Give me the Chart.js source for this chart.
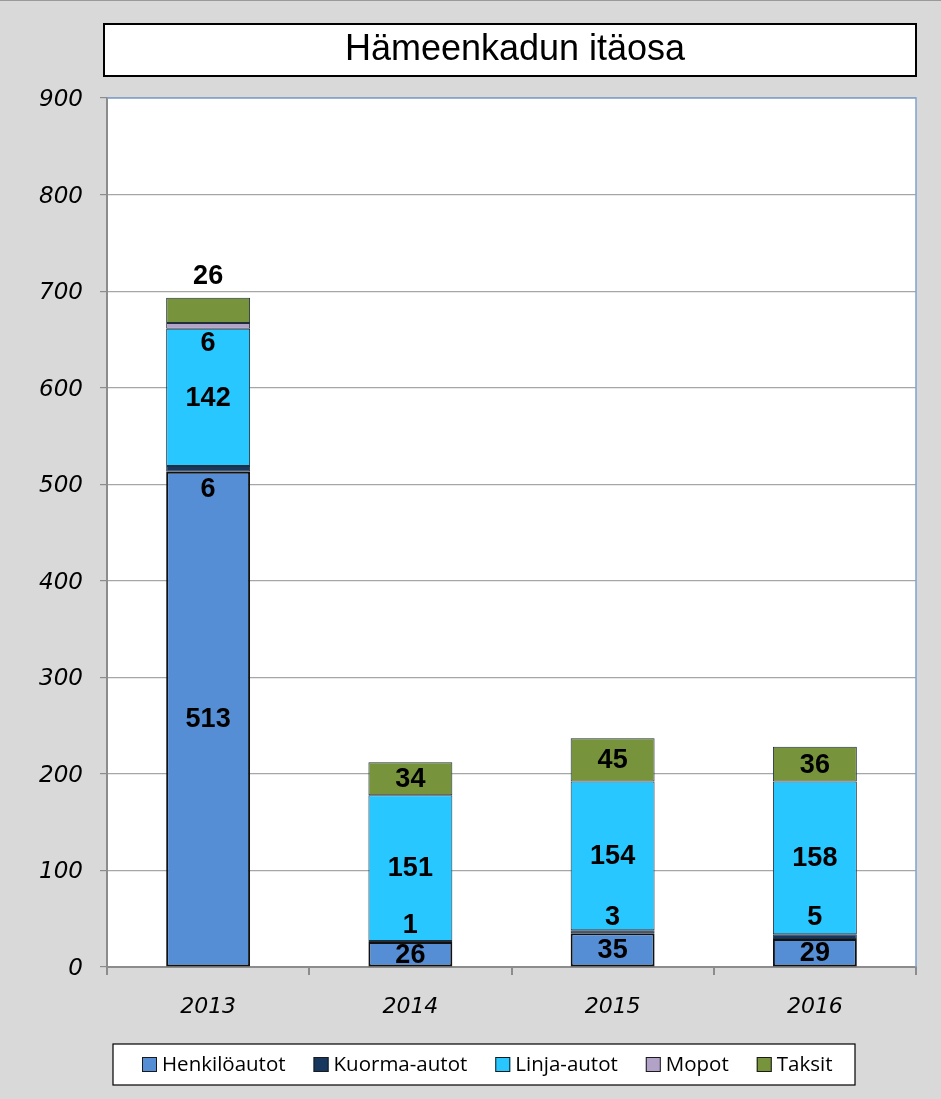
<!DOCTYPE html>
<html>
<head>
<meta charset="utf-8">
<script src="https://cdn.jsdelivr.net/npm/chart.js@4.4.1/dist/chart.umd.min.js"></script>
<style>
  html, body { margin: 0; padding: 0; background: #d9d9d9; }
  canvas { display: block; }
</style>
</head>
<body>
<canvas id="chart" width="941" height="1099"></canvas>
<script>
// data
const years = ['2013', '2014', '2015', '2016'];
const henkiloautot = [513, 26, 35, 29];
const kuormaautot = [6, 1, 3, 5];
const linjaautot = [142, 151, 154, 158];
const mopot = [6, 0, 0, 0];
const taksit = [26, 34, 45, 36];
const seriesNames = ['Henkilöautot', 'Kuorma-autot', 'Linja-autot', 'Mopot', 'Taksit'];
const chartTitle = 'Hämeenkadun itäosa';

const colors = ['#558ed5', '#17375e', '#29c7ff', '#b3a2c7', '#77933c'];
const sansFont = '"Open Sans", "DejaVu Sans", sans-serif';
const tickFont = '"DejaVu Sans", sans-serif';
const labelFont = 'bold 27px "Liberation Sans", Arial, sans-serif';

// label nudges (px) for the thin segments, like the hand-moved labels in the original
const labelShift = {
  1: [20, -17, -15, -20],  // Kuorma-autot
  3: [17, 0, 0, 0],        // Mopot
  4: [-35, 0, 0, 0]        // Taksit
};

const frame = {
  id: 'frame',
  beforeDraw(chart) {
    const ctx = chart.ctx;
    const a = chart.chartArea;
    ctx.save();
    ctx.fillStyle = '#d9d9d9';
    ctx.fillRect(0, 0, chart.width, chart.height);
    ctx.fillStyle = '#9a9a9a';
    ctx.fillRect(0, 0, chart.width, 1);
    // title box
    ctx.fillStyle = '#ffffff';
    ctx.fillRect(104, 24, 812, 52);
    ctx.strokeStyle = '#000';
    ctx.lineWidth = 2;
    ctx.strokeRect(104, 24, 812, 52);
    ctx.fillStyle = '#000';
    ctx.font = '36px "Liberation Sans", Arial, sans-serif';
    ctx.textAlign = 'center';
    ctx.textBaseline = 'middle';
    ctx.fillText(chartTitle, 515, 50);
    // plot area
    ctx.fillStyle = '#ffffff';
    ctx.fillRect(a.left, a.top, a.right - a.left, a.bottom - a.top);
    ctx.restore();
  },
  afterDraw(chart) {
    const ctx = chart.ctx;
    const a = chart.chartArea;
    ctx.save();
    // blue top / right border of the plot
    ctx.strokeStyle = '#7fa2cf';
    ctx.lineWidth = 1.5;
    ctx.beginPath();
    ctx.moveTo(a.left, a.top);
    ctx.lineTo(a.right, a.top);
    ctx.lineTo(a.right, a.bottom);
    ctx.stroke();

    // legend
    const bx = 113, by = 1044, bw = 742, bh = 41;
    ctx.fillStyle = '#fff';
    ctx.fillRect(bx, by, bw, bh);
    ctx.strokeStyle = '#000';
    ctx.lineWidth = 1.2;
    ctx.strokeRect(bx, by, bw, bh);
    ctx.font = '20.5px ' + sansFont;
    ctx.textAlign = 'left';
    ctx.textBaseline = 'middle';
    let x = bx + 29;
    const cy = by + bh / 2;
    chart.data.datasets.forEach(ds => {
      ctx.fillStyle = ds.backgroundColor;
      ctx.fillRect(x, cy - 7.5, 15, 15);
      ctx.strokeStyle = '#1a1a1a';
      ctx.lineWidth = 1;
      ctx.strokeRect(x + 0.5, cy - 7, 14, 14);
      ctx.fillStyle = '#000';
      ctx.fillText(ds.label, x + 20, cy + 1);
      x += 20 + ctx.measureText(ds.label).width + 28;
    });
    ctx.restore();
  }
};

const segmentLabels = {
  id: 'segmentLabels',
  afterDatasetsDraw(chart) {
    const ctx = chart.ctx;
    ctx.save();
    ctx.font = labelFont;
    ctx.fillStyle = '#000';
    ctx.textAlign = 'center';
    ctx.textBaseline = 'middle';
    chart.data.datasets.forEach((ds, di) => {
      const meta = chart.getDatasetMeta(di);
      meta.data.forEach((bar, i) => {
        const v = ds.data[i];
        if (!v) return;
        const shift = labelShift[di] ? labelShift[di][i] : 0;
        ctx.fillText(String(v), bar.x, (bar.y + bar.base) / 2 + shift + 1);
      });
    });
    ctx.restore();
  }
};

const seriesData = [henkiloautot, kuormaautot, linjaautot, mopot, taksit];

new Chart(document.getElementById('chart'), {
  type: 'bar',
  data: {
    labels: years,
    datasets: seriesNames.map((name, i) => ({
      label: name,
      data: seriesData[i],
      backgroundColor: colors[i],
      borderColor: i === 0 ? '#111' : '#1f2f3f',
      borderWidth: i === 0 ? 2 : 1,
      borderSkipped: false,
      categoryPercentage: 1,
      barPercentage: 0.415
    }))
  },
  plugins: [frame, segmentLabels],
  options: {
    responsive: false,
    animation: false,
    events: [],
    layout: { padding: { top: 98, right: 25, left: 0, bottom: 0 } },
    plugins: {
      legend: { display: false },
      title: { display: false },
      tooltip: { enabled: false }
    },
    scales: {
      x: {
        stacked: true,
        afterFit(scale) { scale.height = 132; },
        grid: {
          offset: true,
          drawOnChartArea: false,
          drawTicks: true,
          tickLength: 8,
          color: '#8c8c8c',
          lineWidth: 2
        },
        border: { color: '#8c8c8c', width: 2 },
        ticks: {
          color: '#000',
          padding: 19,
          font: { family: tickFont, size: 22, style: 'italic' }
        }
      },
      y: {
        stacked: true,
        min: 0,
        max: 900,
        afterFit(scale) { scale.width = 107; },
        grid: {
          color: '#a6a6a6',
          lineWidth: 1.2,
          tickLength: 7,
          tickColor: '#8c8c8c'
        },
        border: { color: '#8c8c8c', width: 2 },
        ticks: {
          stepSize: 100,
          color: '#000',
          padding: 17,
          labelOffset: 2,
          font: { family: tickFont, size: 23, style: 'italic' }
        }
      }
    }
  }
});
</script>
</body>
</html>
